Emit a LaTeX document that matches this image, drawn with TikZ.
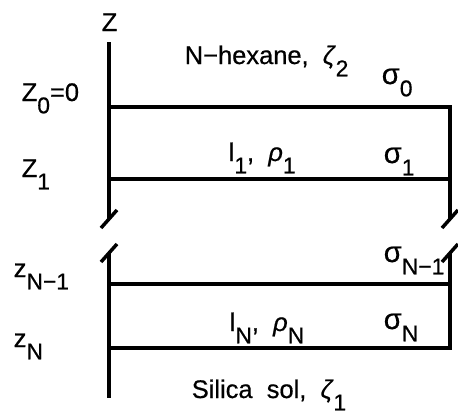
\documentclass[tikz,border=0pt]{standalone}
\usepackage{fontspec}
\setmainfont{Liberation Sans}[FakeBold=0.6]
\newcommand{\dn}[1]{\raisebox{-7pt}{\fontsize{13}{13}\selectfont #1}}
\newcommand{\sig}{\scalebox{1.15}{σ}}

\begin{document}
\begin{tikzpicture}[x=0.02cm, y=-0.02cm, line width=2pt,
    every node/.style={font=\fontsize{14.5}{16}\selectfont, inner sep=0pt, anchor=base west}]
    \useasboundingbox (0,0) rectangle (458,420);
    % axis and layer edges
    \coordinate (ztop) at (109,42);  \coordinate (zbot) at (109,398);
    \coordinate (z0) at (109,107);   \coordinate (r0) at (450,107);
    \coordinate (z1) at (109,179);   \coordinate (r1) at (450,179);
    \coordinate (zn1) at (109,284);  \coordinate (rn1) at (450,284);
    \coordinate (zn) at (109,348);   \coordinate (rn) at (450,348);
    \coordinate (lbrk1) at (109,219); \coordinate (lbrk2) at (109,253);
    \coordinate (rbrk1) at (450,219); \coordinate (rbrk2) at (450,253);
    \draw (ztop) -- (lbrk1);
    \draw (lbrk2) -- (zbot);
    \draw (z0) -- (r0) -- (rbrk1);
    \draw (z1) -- (r1);
    \draw (zn1) -- (rn1);
    \draw (rbrk2) -- (rn) -- (zn);
    % break marks
    \foreach \c in {lbrk1, lbrk2, rbrk1, rbrk2}
        \draw ([shift={(-8,9)}]\c) -- ([shift={(8,-9)}]\c);
    % labels
    \node (zlab) at (100,31) {Z};
    \node (hexane) at (183,64) {N−hexane,\ \ \textit{ζ}\dn{2}};
    \node (sig0) at (380,84) {\sig\dn{0}};
    \node (zz0) at (20,101) {Z\dn{0}=0};
    \node (zz1) at (20,177) {Z\dn{1}};
    \node (lay1) at (227,161) {l\dn{1},\ \ \textit{ρ}\dn{1}};
    \node (sig1) at (382,163) {\sig\dn{1}};
    \node (sigN1) at (382,262) {\sig\dn{N−1}};
    \node (zzN1) at (12,277) {z\dn{N−1}};
    \node (layN) at (228,331) {l\dn{N},\ \ \textit{ρ}\dn{N}};
    \node (sigN) at (382,329) {\sig\dn{N}};
    \node (zzN) at (12,347) {z\dn{N}};
    \node (silica) at (190,398) {Silica\ \ sol,\ \ \textit{ζ}\dn{1}};
\end{tikzpicture}
\end{document}
